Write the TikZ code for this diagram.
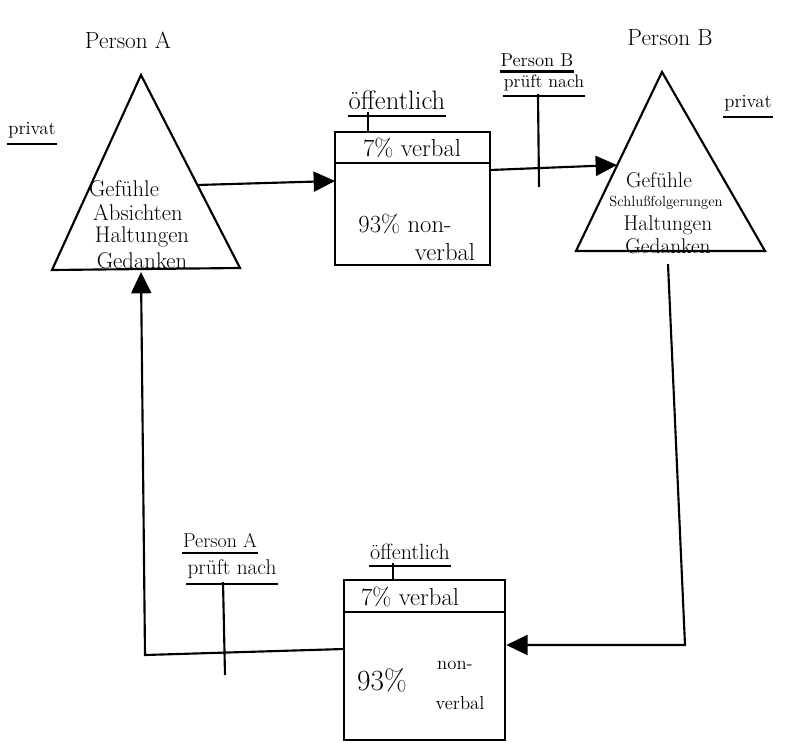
\documentclass[tikz,border=0pt]{standalone}
\usetikzlibrary{arrows.meta}
\begin{document}
\begin{tikzpicture}[x=0.75pt,y=-0.75pt,line width=1.6pt,
  arr/.style={-{Triangle[length=16pt,width=15pt]}},
  tri/.style={font=\fontsize{17}{19}\selectfont,inner sep=0pt},
  trib/.style={font=\fontsize{16}{18}\selectfont,inner sep=0pt},
  boxtxt/.style={font=\fontsize{18.5}{20}\selectfont,inner sep=0pt},
  title/.style={font=\fontsize{17.5}{20}\selectfont,inner sep=0pt},
  lbl/.style={font=\fontsize{14}{16}\selectfont,inner sep=0pt},
  tiny/.style={font=\fontsize{11}{12}\selectfont,inner sep=0pt},
  boxnode/.style={draw,line width=1.6pt,inner sep=0pt}]
\useasboundingbox (0,0) rectangle (794,743);
\fill[white] (0,0) rectangle (794,743);

% ---------- Person A triangle ----------
\coordinate (Atop) at (141,75);
\coordinate (Abl) at (52,270);
\coordinate (Abr) at (240,268);
\draw (Atop) -- (Abr) -- (Abl) -- cycle;
\coordinate (Aout) at (197,185);
\coordinate (Ain) at (141,272);
\node[title] (pA) at (128,40) {Person A};
\node[lbl] (privA) at (32,130) {privat};
\draw ([yshift=-4pt]privA.south west) -- ([yshift=-4pt]privA.south east);
\node[tri] (a1) at (124,189) {Gefühle};
\node[tri] (a2) at (138,213) {Absichten};
\node[tri] (a3) at (142,237) {Haltungen};
\node[tri] (a4) at (142,261) {Gedanken};

% ---------- Person B triangle ----------
\coordinate (Btop) at (662,72);
\coordinate (Bbl) at (576,251);
\coordinate (Bbr) at (765,251);
\draw (Btop) -- (Bbr) -- (Bbl) -- cycle;
\coordinate (Bin) at (617,165);
\coordinate (Bout) at (668,264);
\node[title] (pB) at (670,38) {Person B};
\node[lbl] (privB) at (748,103) {privat};
\draw ([yshift=-4pt]privB.south west) -- ([yshift=-4pt]privB.south east);
\node[trib] (b1) at (659,180) {Gefühle};
\node[tiny] (b2) at (666,203) {Schlußfolgerungen};
\node[trib] (b3) at (668,225) {Haltungen};
\node[trib] (b4) at (668,246) {Gedanken};

% ---------- upper box ----------
\node[boxnode,minimum width=116pt,minimum height=100pt] (box1) at (412.5,198.5) {};
\draw (box1.west |- 0,163) -- (box1.east |- 0,163);
\node[boxtxt] (v1) at (412,148) {7\% verbal};
\node[boxtxt] (n1) at (405,224) {93\% non-};
\node[boxtxt] (n1b) at (445,252) {verbal};
\node[font=\fontsize{20}{22}\selectfont,inner sep=0pt] (oe1) at (397,100) {öffentlich};
\draw ([yshift=-4pt]oe1.south west) -- ([yshift=-4pt]oe1.south east);
\coordinate (oe1t) at (368,112);
\draw (oe1t) -- (oe1t |- box1.north);

% ---------- lower box ----------
\node[boxnode,minimum width=121pt,minimum height=120pt] (box2) at (424.5,660) {};
\draw (box2.west |- 0,612) -- (box2.east |- 0,612);
\node[boxtxt] (v2) at (410,597) {7\% verbal};
\node[font=\fontsize{22}{24}\selectfont,inner sep=0pt] (n2) at (382,680) {93\%};
\node[lbl] (n2a) at (455,665) {non-};
\node[lbl] (n2b) at (460,703) {verbal};
\node[font=\fontsize{16.5}{18}\selectfont,inner sep=0pt] (oe2) at (410,552) {öffentlich};
\draw ([yshift=-4pt]oe2.south west) -- ([yshift=-4pt]oe2.south east);
\coordinate (oe2t) at (393,563);
\draw (oe2t) -- (oe2t |- box2.north);

% ---------- Person B prüft nach ----------
\node[lbl] (pBc) at (537,60) {Person B};
\draw ([yshift=-3pt]pBc.south west) -- ([yshift=-3pt]pBc.south east);
\node[font=\fontsize{13.5}{15}\selectfont,inner sep=0pt] (prB) at (544,83) {prüft nach};
\draw ([yshift=-3pt]prB.south west) -- ([yshift=-3pt]prB.south east);
\coordinate (t1a) at (538,94);
\coordinate (t1b) at (539,187);
\draw (t1a) -- (t1b);

% ---------- Person A prüft nach ----------
\node[font=\fontsize{15}{17}\selectfont,inner sep=0pt] (pAc) at (220,541) {Person A};
\draw ([yshift=-3pt]pAc.south west) -- ([yshift=-3pt]pAc.south east);
\node[font=\fontsize{16}{18}\selectfont,inner sep=0pt] (prA) at (232,569) {prüft nach};
\draw ([yshift=-3pt]prA.south west) -- ([yshift=-3pt]prA.south east);
\coordinate (t2a) at (223,582);
\coordinate (t2b) at (225,675);
\draw (t2a) -- (t2b);

% ---------- connectors ----------
\coordinate (b1in) at (335,181);
\draw[arr] (Aout) -- (b1in);
\coordinate (b1out) at (490,170);
\draw[arr] (b1out) -- (Bin);
\coordinate (cornerBR) at (685,645);
\draw[arr] (Bout) -- (cornerBR) -- (box2.east |- cornerBR);
\coordinate (b2out) at (344,649);
\coordinate (cornerBL) at (145,655);
\draw[arr] (b2out) -- (cornerBL) -- (Ain);
\end{tikzpicture}
\end{document}
